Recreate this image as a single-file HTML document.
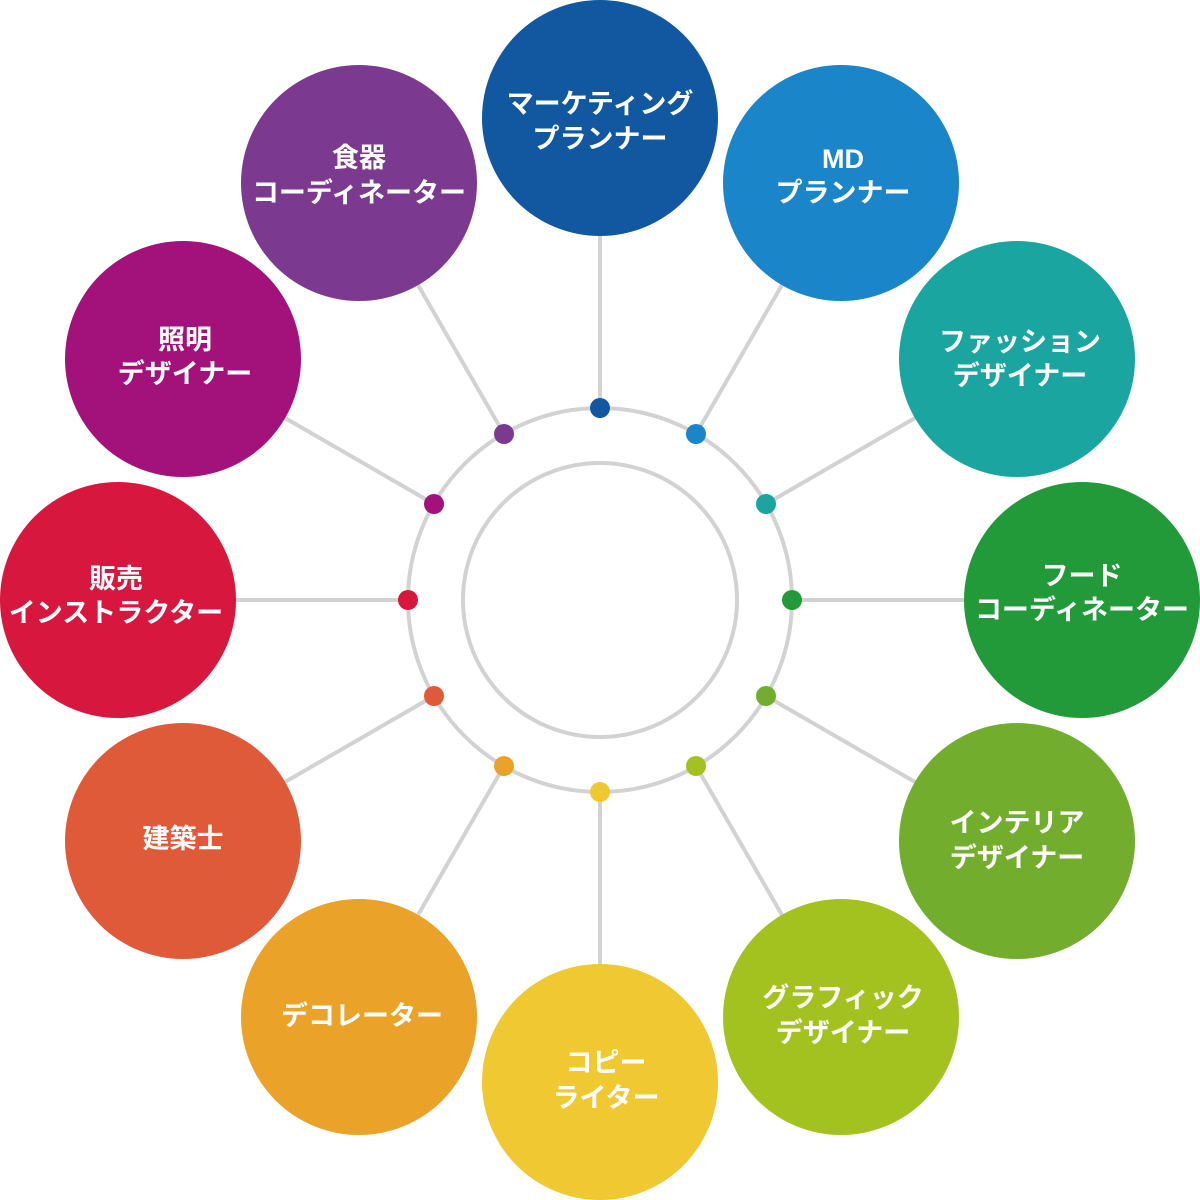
<!DOCTYPE html>
<html><head><meta charset="utf-8">
<style>
html,body{margin:0;padding:0;background:#fff;}
svg{display:block;}
text{font-family:"Liberation Sans","Noto Sans CJK JP",sans-serif;font-weight:bold;font-size:27px;fill:#fff;text-anchor:middle;}
</style></head>
<body>
<svg width="1200" height="1200" viewBox="0 0 1200 1200" xmlns="http://www.w3.org/2000/svg">
<g stroke="#d2d2d2" stroke-width="4" fill="none">
<circle cx="600" cy="600" r="192"/>
<circle cx="600" cy="600" r="137"/>
<line x1="600" y1="408" x2="600" y2="236"/>
<line x1="696" y1="434" x2="782" y2="285"/>
<line x1="766" y1="504" x2="915" y2="418"/>
<line x1="792" y1="600" x2="964" y2="600"/>
<line x1="766" y1="696" x2="915" y2="782"/>
<line x1="696" y1="766" x2="782" y2="915"/>
<line x1="600" y1="792" x2="600" y2="964"/>
<line x1="504" y1="766" x2="418" y2="915"/>
<line x1="434" y1="696" x2="285" y2="782"/>
<line x1="408" y1="600" x2="236" y2="600"/>
<line x1="434" y1="504" x2="285" y2="418"/>
<line x1="504" y1="434" x2="418" y2="285"/>
</g>
<g>
<circle cx="600" cy="118" r="118" fill="#1158a0"/>
<circle cx="841" cy="183" r="118" fill="#1a85c8"/>
<circle cx="1017" cy="359" r="118" fill="#1ba5a0"/>
<circle cx="1082" cy="600" r="118" fill="#229a3a"/>
<circle cx="1017" cy="841" r="118" fill="#72ad2e"/>
<circle cx="841" cy="1017" r="118" fill="#a3c21f"/>
<circle cx="600" cy="1082" r="118" fill="#f0c832"/>
<circle cx="359" cy="1017" r="118" fill="#eba228"/>
<circle cx="183" cy="841" r="118" fill="#df5a38"/>
<circle cx="118" cy="600" r="118" fill="#d8173f"/>
<circle cx="183" cy="359" r="118" fill="#a3127a"/>
<circle cx="359" cy="183" r="118" fill="#7b3a90"/>
</g>
<g>
<circle cx="600" cy="408" r="10" fill="#1158a0"/>
<circle cx="696" cy="434" r="10" fill="#1a85c8"/>
<circle cx="766" cy="504" r="10" fill="#1ba5a0"/>
<circle cx="792" cy="600" r="10" fill="#229a3a"/>
<circle cx="766" cy="696" r="10" fill="#72ad2e"/>
<circle cx="696" cy="766" r="10" fill="#a3c21f"/>
<circle cx="600" cy="792" r="10" fill="#f0c832"/>
<circle cx="504" cy="766" r="10" fill="#eba228"/>
<circle cx="434" cy="696" r="10" fill="#df5a38"/>
<circle cx="408" cy="600" r="10" fill="#d8173f"/>
<circle cx="434" cy="504" r="10" fill="#a3127a"/>
<circle cx="504" cy="434" r="10" fill="#7b3a90"/>
</g>
<text x="600" y="113">マーケティング</text><text x="600" y="148">プランナー</text>
<text x="843" y="168">MD</text><text x="843" y="202">プランナー</text>
<text x="1020" y="351">ファッション</text><text x="1020" y="385">デザイナー</text>
<text x="1082" y="585">フード</text><text x="1082" y="619">コーディネーター</text>
<text x="1017" y="832">インテリア</text><text x="1017" y="867">デザイナー</text>
<text x="843" y="1007">グラフィック</text><text x="843" y="1042">デザイナー</text>
<text x="606" y="1072">コピー</text><text x="606" y="1107">ライター</text>
<text x="362" y="1025">デコレーター</text>
<text x="183" y="848">建築士</text>
<text x="116" y="588">販売</text><text x="116" y="622">インストラクター</text>
<text x="185" y="349">照明</text><text x="185" y="383">デザイナー</text>
<text x="359" y="167">食器</text><text x="359" y="202">コーディネーター</text>
</svg>
</body></html>
